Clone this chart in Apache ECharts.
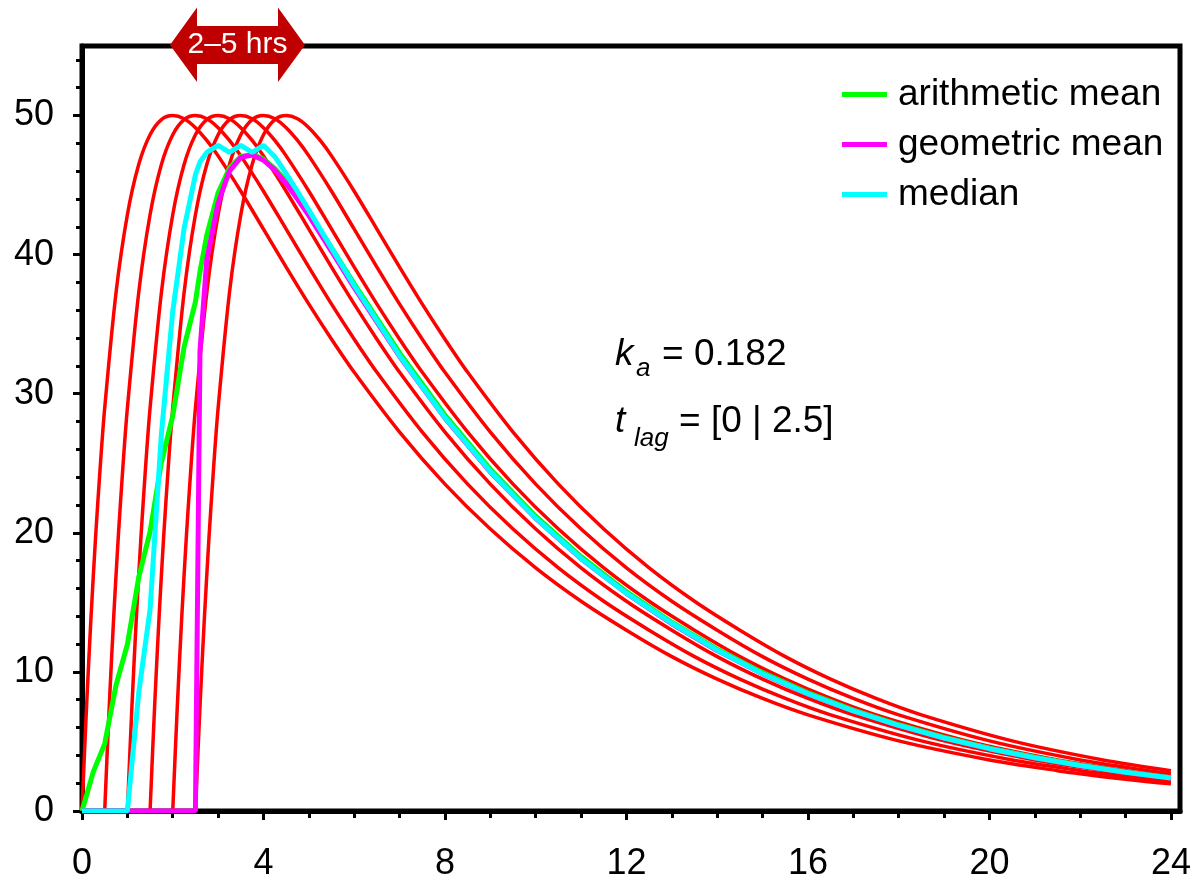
<!DOCTYPE html>
<html>
<head>
<meta charset="utf-8">
<script src="https://cdn.jsdelivr.net/npm/echarts@6/dist/echarts.min.js"></script>
<style>
html, body { margin: 0; padding: 0; background: #fff; }
#chart { width: 1194px; height: 882px; }
</style>
</head>
<body>
<div id="chart"></div>
<script>
// six individual profiles, same shape, shifted by the lag time
var lags = [0, 0.5, 1, 1.5, 2, 2.5];
var profileTimes = [0, 0.1, 0.2, 0.3, 0.4, 0.5, 0.75, 1, 1.25, 1.5, 1.75, 2, 2.25, 2.5, 2.75, 3, 3.5, 4, 4.5, 5, 5.5, 6,
  7, 8, 9, 10, 11, 12, 13, 14, 15, 16, 18, 20, 21.5, 22, 22.5, 23, 23.5, 24];
var profileConc = [0, 7.49, 14.03, 19.72, 24.67, 28.96, 37.27, 42.87, 46.48, 48.62, 49.71, 50.0, 49.77, 49.13, 48.21, 47.10,
  44.56, 41.83, 39.10, 36.44, 33.92, 31.54, 27.24, 23.50, 20.27, 17.48, 15.08, 13.00, 11.10, 9.48, 8.09, 6.91,
  5.04, 3.67, 2.90, 2.68, 2.47, 2.29, 2.11, 1.95];

// summary curves
var meanTimes = [0, 0.25, 0.5, 0.75, 1, 1.25, 1.5, 1.75, 2, 2.25, 2.5, 2.6, 2.75, 3, 3.25, 3.5, 3.75, 4, 4.25, 4.5, 4.75, 5,
  5.5, 6, 7, 8, 9, 10, 11, 12, 13, 14, 15, 16, 17, 18, 19, 20, 21, 22, 23, 24];
var arithMean = [0, 2.83, 4.83, 9.04, 11.97, 16.79, 20.08, 25.07, 28.41, 33.37, 36.60, 38.77, 41.40, 44.45, 46.22, 47.05,
  47.21, 46.87, 46.20, 45.29, 44.21, 43.03, 40.49, 37.90, 32.93, 28.47, 24.58, 21.20, 18.29, 15.77, 13.57, 11.64,
  9.95, 8.50, 7.26, 6.20, 5.29, 4.52, 3.86, 3.29, 2.81, 2.40];
var geoMean = [0, 0, 0, 0, 0, 0, 0, 0, 0, 0, 0, 33.06, 39.63, 43.71, 46.01, 46.99, 47.16, 46.79, 46.07, 45.11, 44.00, 42.80,
  40.24, 37.63, 32.68, 28.25, 24.38, 21.04, 18.14, 15.65, 13.46, 11.54, 9.86, 8.42, 7.19, 6.14, 5.24, 4.48, 3.82,
  3.26, 2.79, 2.38];
var medianConc = [0, 0, 0, 0, 0, 8.49, 14.48, 27.12, 35.92, 41.88, 45.75, 46.66, 47.35, 47.86, 47.35, 47.86, 47.35, 47.86,
  47.04, 45.83, 44.54, 43.20, 40.47, 37.77, 32.73, 28.28, 24.41, 21.05, 18.16, 15.66, 13.50, 11.56, 9.87, 8.43,
  7.20, 6.15, 5.25, 4.48, 3.83, 3.27, 2.79, 2.38];

var xTickValues = [0, 4, 8, 12, 16, 20, 24];
var yTickValues = [0, 10, 20, 30, 40, 50];

var fontFamily = '"Liberation Sans", Arial, sans-serif';
var chart = echarts.init(document.getElementById('chart'));

function pairs(xs, ys) {
  return xs.map(function (x, i) { return [x, ys[i]]; });
}

var series = lags.map(function (lag) {
  var pts = [];
  profileTimes.forEach(function (t, i) {
    if (lag + t <= 24) pts.push([lag + t, profileConc[i]]);
  });
  return {
    name: 'lag ' + lag,
    type: 'line',
    data: pts,
    smooth: 0.3,
    symbol: 'none',
    lineStyle: { color: '#ff0000', width: 3.5 },
    itemStyle: { color: '#ff0000' }
  };
});

var summary = [
  { name: 'arithmetic mean', values: arithMean, color: '#00ff00' },
  { name: 'geometric mean', values: geoMean, color: '#ff00ff' },
  { name: 'median', values: medianConc, color: '#00ffff' }
];
summary.forEach(function (s) {
  series.push({
    name: s.name,
    type: 'line',
    data: pairs(meanTimes, s.values),
    symbol: 'none',
    lineStyle: { color: s.color, width: 5 },
    itemStyle: { color: s.color }
  });
});

var option = {
  animation: false,
  backgroundColor: '#ffffff',
  textStyle: { fontFamily: fontFamily },
  grid: {
    left: 82, right: 14, top: 46, bottom: 71,
    show: true, borderColor: '#000', borderWidth: 5,
    outerBoundsMode: 'none'
  },
  legend: {
    data: summary.map(function (s) { return { name: s.name, icon: 'rect' }; }),
    orient: 'vertical',
    left: 837, top: 71,
    itemWidth: 45, itemHeight: 5, itemGap: 13,
    textStyle: { fontSize: 37, color: '#000', fontFamily: fontFamily, padding: [0, 0, 0, 6] }
  },
  xAxis: {
    type: 'value', min: 0, max: 24.2, interval: 4,
    axisLine: { lineStyle: { color: '#000', width: 5 } },
    axisTick: { length: 9, customValues: xTickValues, lineStyle: { color: '#000', width: 3 } },
    minorTick: { show: true, splitNumber: 4, length: 7, lineStyle: { color: '#000', width: 3 } },
    axisLabel: {
      fontSize: 36, color: '#000', margin: 35, fontFamily: fontFamily,
      customValues: xTickValues
    },
    splitLine: { show: false }
  },
  yAxis: {
    type: 'value', min: 0, max: 55, interval: 10,
    axisLine: { lineStyle: { color: '#000', width: 5 } },
    axisTick: { length: 9, customValues: yTickValues, lineStyle: { color: '#000', width: 3 } },
    minorTick: { show: true, splitNumber: 5, length: 6, lineStyle: { color: '#000', width: 3 } },
    axisLabel: {
      fontSize: 36, color: '#000', margin: 28, fontFamily: fontFamily,
      customValues: yTickValues
    },
    splitLine: { show: false }
  },
  graphic: [
    {
      type: 'polygon', z: 100,
      shape: { points: [[170, 45], [197, 7.5], [197, 26], [278, 26], [278, 7.5], [305, 45], [278, 82], [278, 64], [197, 64], [197, 82]] },
      style: { fill: '#c00000' }
    },
    {
      type: 'text', z: 101, x: 237.5, y: 45,
      style: { text: '2\u20135 hrs', font: '30px ' + fontFamily, fill: '#fff', align: 'center', verticalAlign: 'middle', textAlign: 'center', textVerticalAlign: 'middle' }
    },
    {
      type: 'text', z: 101, x: 615, y: 355,
      style: { text: 'k', font: 'italic 37px ' + fontFamily, fill: '#000', verticalAlign: 'middle', textVerticalAlign: 'middle' }
    },
    {
      type: 'text', z: 101, x: 636, y: 369,
      style: { text: 'a', font: 'italic 26px ' + fontFamily, fill: '#000', verticalAlign: 'middle', textVerticalAlign: 'middle' }
    },
    {
      type: 'text', z: 101, x: 662, y: 355,
      style: { text: '= 0.182', font: '37px ' + fontFamily, fill: '#000', verticalAlign: 'middle', textVerticalAlign: 'middle' }
    },
    {
      type: 'text', z: 101, x: 615, y: 422,
      style: { text: 't', font: 'italic 37px ' + fontFamily, fill: '#000', verticalAlign: 'middle', textVerticalAlign: 'middle' }
    },
    {
      type: 'text', z: 101, x: 634, y: 439,
      style: { text: 'lag', font: 'italic 26px ' + fontFamily, fill: '#000', verticalAlign: 'middle', textVerticalAlign: 'middle' }
    },
    {
      type: 'text', z: 101, x: 679, y: 422,
      style: { text: '= [0 | 2.5]', font: '37px ' + fontFamily, fill: '#000', verticalAlign: 'middle', textVerticalAlign: 'middle' }
    }
  ],
  series: series
};

chart.setOption(option);
</script>
</body>
</html>
